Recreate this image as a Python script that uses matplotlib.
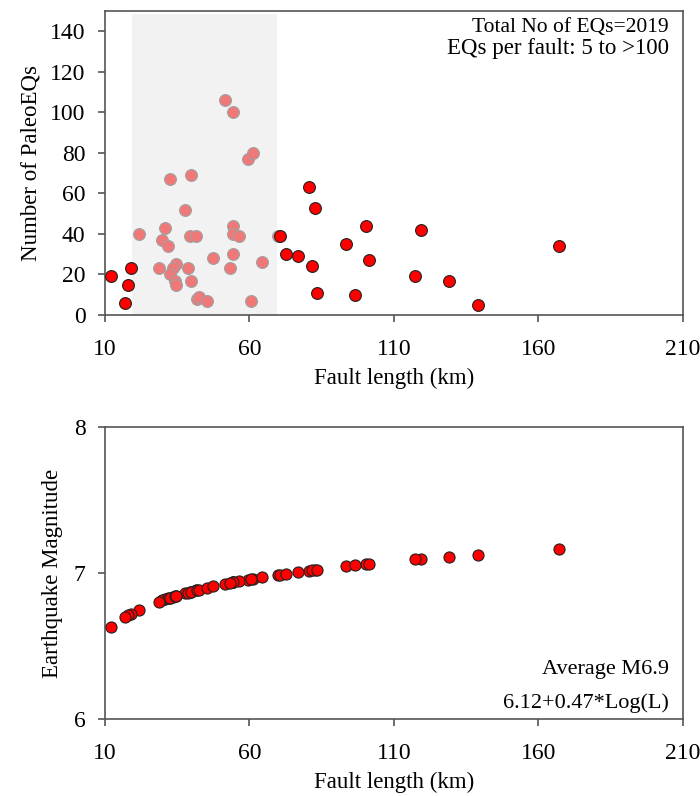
import numpy as np
import matplotlib
matplotlib.use("Agg")
import matplotlib.pyplot as plt

plt.rcParams['font.family'] = ['Liberation Serif', 'DejaVu Serif']

# faults in the 20-70 km window (light markers), length km / number of paleo EQs
inLength = [21.9, 30.8, 29.6, 31.7, 32.6, 39.6, 37.7, 39.4, 41.6, 28.7, 34.7,
            33.6, 32.6, 34.1, 34.7, 38.6, 39.6, 41.7, 42.6, 45.4, 47.5, 51.4,
            54.4, 59.4, 61.3, 54.4, 54.4, 56.5, 54.4, 53.4, 60.4, 64.2, 70.0]
inCount = [40, 43, 37, 34, 67, 69, 52, 39, 39, 23, 25,
           23, 20, 17, 15, 23, 17, 8, 9, 7, 28, 106,
           100, 77, 80, 44, 40, 39, 30, 23, 7, 26, 39]

# remaining faults (red markers)
outLength = [12.0, 18.9, 18.0, 16.8, 70.6, 80.5, 82.6, 72.6, 76.7, 81.5,
             83.5, 93.4, 100.3, 101.5, 96.4, 119.3, 117.4, 129.1, 139.2, 167.1]
outCount = [19, 23, 15, 6, 39, 63, 53, 30, 29, 24,
            11, 35, 44, 27, 10, 42, 19, 17, 5, 34]

# magnitude per fault (same order: window faults then the rest)
inMag = [6.750, 6.820, 6.812, 6.826, 6.831, 6.871, 6.861, 6.870, 6.881, 6.805, 6.844,
         6.837, 6.831, 6.840, 6.844, 6.866, 6.871, 6.881, 6.886, 6.899, 6.908, 6.924,
         6.936, 6.954, 6.960, 6.936, 6.936, 6.943, 6.936, 6.932, 6.957, 6.970, 6.987]
outMag = [6.627, 6.720, 6.710, 6.696, 6.989, 7.016, 7.021, 6.995, 7.006, 7.018,
          7.023, 7.046, 7.061, 7.063, 7.053, 7.096, 7.093, 7.112, 7.127, 7.165]

xTicks = [10, 60, 110, 160, 210]
windowRange = [19.2, 69.4]

fig = plt.figure(figsize=(7, 7.96), dpi=100)
ax1 = fig.add_axes([0.15, 0.6043, 0.8257, 0.3819])
ax2 = fig.add_axes([0.15, 0.0967, 0.8257, 0.3668])

spineColor = '#555555'
for ax in (ax1, ax2):
    for s in ax.spines.values():
        s.set_color(spineColor)
        s.set_linewidth(1.2)
    ax.tick_params(direction='out', length=5, width=1.2, color=spineColor,
                   labelsize=17)
    ax.tick_params(axis='x', pad=12)
    ax.tick_params(axis='y', pad=9)
    ax.set_xlim(10, 210)
    ax.set_xticks(xTicks)
    ax.set_xlabel('Fault length (km)', fontsize=16.5, labelpad=6)

# --- top panel
ax1.axvspan(windowRange[0], windowRange[1], ymin=0, ymax=0.99,
            color='#f2f2f2', zorder=0, lw=0)
ax1.plot(inLength, inCount, 'o', color='#f07878', mec='#a0a0a0', mew=0.8,
         ms=8.5, zorder=3)
ax1.plot(outLength, outCount, 'o', color='#ff0000', mec='#222222', mew=0.8,
         ms=8.5, zorder=4)
ax1.set_ylim(0, 150)
ax1.set_yticks(np.arange(0, 141, 20))
ax1.set_ylabel('Number of PaleoEQs', fontsize=16.5, labelpad=6)
ax1.text(0.975, 0.947, 'Total No of EQs=2019', transform=ax1.transAxes,
         ha='right', va='center', fontsize=15.5)
ax1.text(0.975, 0.878, 'EQs per fault: 5 to >100', transform=ax1.transAxes,
         ha='right', va='center', fontsize=16.5)

# --- bottom panel
ax2.plot(inLength + outLength, inMag + outMag, 'o', color='#ff0000',
         mec='#222222', mew=0.8, ms=8, zorder=3)
ax2.set_ylim(6, 8)
ax2.set_yticks([6, 7, 8])
ax2.set_ylabel('Earthquake Magnitude', fontsize=16.5, labelpad=8)
ax2.text(0.975, 0.168, 'Average M6.9', transform=ax2.transAxes,
         ha='right', va='center', fontsize=16)
ax2.text(0.975, 0.055, '6.12+0.47*Log(L)', transform=ax2.transAxes,
         ha='right', va='center', fontsize=16)

fig.savefig('out.png', dpi=100)
